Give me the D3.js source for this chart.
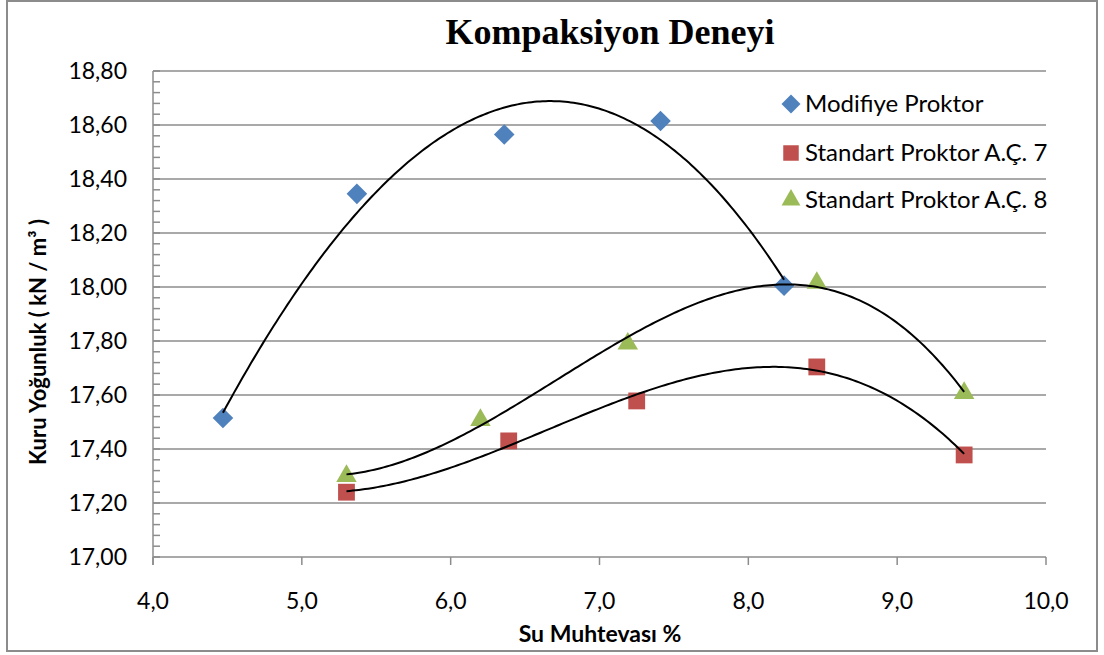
<!DOCTYPE html>
<html>
<head>
<meta charset="utf-8">
<script src="https://cdn.jsdelivr.net/npm/d3@7"></script>
<style>
  body { margin: 0; background: #fff; }
  text { font-family: Lato, "Open Sans", sans-serif; fill: #000; }
</style>
</head>
<body>
<div id="viz"></div>
<script>
var width = 1104;
var height = 655;

// data
var modX = [4.47, 5.37, 6.36, 7.41, 8.24];
var modY = [17.515, 18.345, 18.565, 18.615, 18.005];
var std7X = [5.30, 6.39, 7.25, 8.46, 9.45];
var std7Y = [17.24, 17.43, 17.578, 17.704, 17.378];
var std8X = [5.30, 6.20, 7.19, 8.46, 9.45];
var std8Y = [17.30, 17.507, 17.79, 18.015, 17.607];
var seriesNames = ["Modifiye Proktor", "Standart Proktor A.Ç. 7", "Standart Proktor A.Ç. 8"];
var seriesColors = ["#4F81BD", "#C0504D", "#9BBB59"];
var xTicks = [4, 5, 6, 7, 8, 9, 10];
var yTicks = [17.0, 17.2, 17.4, 17.6, 17.8, 18.0, 18.2, 18.4, 18.6, 18.8];

var svg = d3.select("#viz").append("svg")
    .attr("width", width)
    .attr("height", height);

// outer border
svg.append("rect")
    .attr("x", 7).attr("y", 1)
    .attr("width", 1090).attr("height", 650)
    .attr("fill", "#fff")
    .attr("stroke", "#8c8c8c")
    .attr("stroke-width", 2);

var x = d3.scaleLinear().domain([4, 10]).range([153, 1046]);
var y = d3.scaleLinear().domain([17, 18.8]).range([557, 71]);

// gridlines
svg.selectAll(".grid").data(yTicks.slice(1)).enter().append("line")
    .attr("x1", x(4)).attr("x2", x(10))
    .attr("y1", function(d) { return y(d); })
    .attr("y2", function(d) { return y(d); })
    .attr("stroke", "#8c8c8c")
    .attr("stroke-width", 1.5);

// minor ticks on y axis
var minor = d3.range(0, 46).map(function(i) { return 17 + i * 0.04; });
svg.selectAll(".minor").data(minor).enter().append("line")
    .attr("x1", x(4)).attr("x2", x(4) + 7)
    .attr("y1", function(d) { return y(d); })
    .attr("y2", function(d) { return y(d); })
    .attr("stroke", "#8c8c8c")
    .attr("stroke-width", 1.5);

// axes lines
svg.append("line")
    .attr("x1", x(4)).attr("x2", x(4))
    .attr("y1", y(18.8)).attr("y2", y(17) + 8)
    .attr("stroke", "#8c8c8c").attr("stroke-width", 1.5);
svg.append("line")
    .attr("x1", x(4)).attr("x2", x(10))
    .attr("y1", y(17)).attr("y2", y(17))
    .attr("stroke", "#8c8c8c").attr("stroke-width", 1.5);
svg.selectAll(".xtick").data(xTicks).enter().append("line")
    .attr("x1", function(d) { return x(d); })
    .attr("x2", function(d) { return x(d); })
    .attr("y1", y(17)).attr("y2", y(17) + 8)
    .attr("stroke", "#8c8c8c").attr("stroke-width", 1.5);

// tick labels
var fmtY = function(d) { return d.toFixed(2).replace(".", ","); };
var fmtX = function(d) { return d.toFixed(1).replace(".", ","); };

svg.selectAll(".ylab").data(yTicks).enter().append("text")
    .attr("x", 127)
    .attr("y", function(d) { return y(d) + 8; })
    .attr("text-anchor", "end")
    .style("font-size", "23px")
    .text(fmtY);

svg.selectAll(".xlab").data(xTicks).enter().append("text")
    .attr("x", function(d) { return x(d); })
    .attr("y", 609)
    .attr("text-anchor", "middle")
    .style("font-size", "23px")
    .text(fmtX);

// titles
svg.append("text")
    .attr("x", 610).attr("y", 44)
    .attr("text-anchor", "middle")
    .style("font-family", "'Liberation Serif', 'Times New Roman', serif")
    .style("font-weight", "bold")
    .style("font-size", "36px")
    .text("Kompaksiyon Deneyi");

svg.append("text")
    .attr("x", 600).attr("y", 642)
    .attr("text-anchor", "middle")
    .style("font-weight", "bold")
    .style("font-size", "23px")
    .text("Su Muhtevası %");

svg.append("text")
    .attr("transform", "translate(46," + 342 + ") rotate(-90)")
    .attr("text-anchor", "middle")
    .style("font-weight", "bold")
    .style("font-size", "22px")
    .text("Kuru Yoğunluk ( kN / m³ )");

// polynomial trendline (order 3, least squares) like the spreadsheet one
function polyFit(xs, ys, order) {
  var n = order + 1;
  var A = [];
  for (var i = 0; i < n; i++) {
    A.push([]);
    for (var j = 0; j <= n; j++) A[i].push(0);
  }
  xs.forEach(function(xv, k) {
    for (var i = 0; i < n; i++) {
      for (var j = 0; j < n; j++) A[i][j] += Math.pow(xv, i + j);
      A[i][n] += ys[k] * Math.pow(xv, i);
    }
  });
  for (var c = 0; c < n; c++) {
    var p = c;
    for (var r = c + 1; r < n; r++) if (Math.abs(A[r][c]) > Math.abs(A[p][c])) p = r;
    var t = A[c]; A[c] = A[p]; A[p] = t;
    for (var r2 = 0; r2 < n; r2++) {
      if (r2 === c) continue;
      var f = A[r2][c] / A[c][c];
      for (var j2 = c; j2 <= n; j2++) A[r2][j2] -= f * A[c][j2];
    }
  }
  return A.map(function(row, i) { return row[n] / row[i]; });
}

var line = d3.line()
    .x(function(d) { return x(d[0]); })
    .y(function(d) { return y(d[1]); });

function drawTrend(xs, ys) {
  var coef = polyFit(xs, ys, 3);
  var x0 = d3.min(xs), x1 = d3.max(xs);
  var pts = d3.range(0, 201).map(function(i) {
    var xv = x0 + (x1 - x0) * i / 200;
    var yv = 0;
    coef.forEach(function(c, k) { yv += c * Math.pow(xv, k); });
    return [xv, yv];
  });
  svg.append("path")
      .attr("d", line(pts))
      .attr("fill", "none")
      .attr("stroke", "#000")
      .attr("stroke-width", 2);
}

var allSeries = [[modX, modY], [std7X, std7Y], [std8X, std8Y]];
var symbols = [d3.symbolDiamond2, d3.symbolSquare2, d3.symbolTriangle2];
var symSizes = [270, 360, 300];

allSeries.forEach(function(s, i) {
  var pts = s[0].map(function(xv, k) { return [xv, s[1][k]]; });
  svg.selectAll(".m" + i).data(pts).enter().append("path")
      .attr("transform", function(d) { return "translate(" + x(d[0]) + "," + y(d[1]) + ")"; })
      .attr("d", d3.symbol().type(symbols[i]).size(symSizes[i]))
      .attr("fill", seriesColors[i]);
});

allSeries.forEach(function(s) { drawTrend(s[0], s[1]); });

// legend
var legY = [104, 153, 200];
seriesNames.forEach(function(name, i) {
  svg.append("path")
      .attr("transform", "translate(791," + legY[i] + ")")
      .attr("d", d3.symbol().type(symbols[i]).size(symSizes[i] * 0.85))
      .attr("fill", seriesColors[i]);
  svg.append("text")
      .attr("x", 805).attr("y", legY[i] + 8)
      .style("font-size", "24px")
      .text(name);
});
</script>
</body>
</html>
